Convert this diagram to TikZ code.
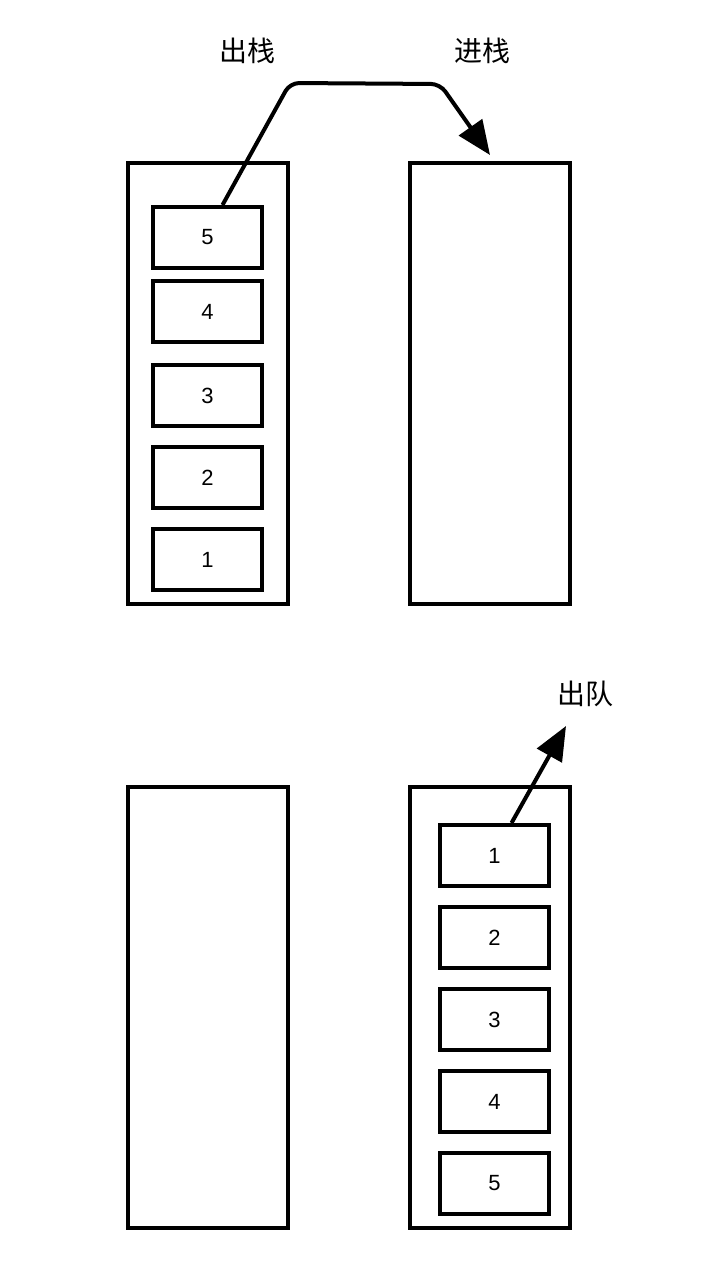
\documentclass[tikz,border=0pt]{standalone}
\usepackage{fontspec}
\setmainfont{Liberation Sans}
\newfontfamily\cjk{Noto Sans CJK SC}
\usetikzlibrary{arrows.meta}
\begin{document}
\begin{tikzpicture}[x=1pt,y=-1pt,
  stackbox/.style={draw,line width=4pt,minimum width=160pt,minimum height=441pt,inner sep=0pt},
  itembox/.style={draw,line width=4pt,minimum width=109pt,minimum height=61pt,inner sep=0pt,font=\fontsize{22}{26}\selectfont},
  lbl/.style={font=\cjk\fontsize{28}{32}\selectfont},
  arr/.style={line width=4pt,-{Triangle[length=34pt,width=28pt]}}]
\useasboundingbox (0,0) rectangle (718,1284);
% top stacks
\node[stackbox] (tl) at (208,383.5) {};
\node[stackbox] (tr) at (490,383.5) {};
\node[itembox] (l5) at (207.5,237.5) {5};
\node[itembox] (l4) at (207.5,311.5) {4};
\node[itembox] (l3) at (207.5,395.5) {3};
\node[itembox] (l2) at (207.5,477.5) {2};
\node[itembox] (l1) at (207.5,559.5) {1};
% bottom stacks
\node[stackbox] (bl) at (208,1007.5) {};
\node[stackbox] (br) at (490,1007.5) {};
\node[itembox] (r1) at (494.5,855.5) {1};
\node[itembox] (r2) at (494.5,937.5) {2};
\node[itembox] (r3) at (494.5,1019.5) {3};
\node[itembox] (r4) at (494.5,1101.5) {4};
\node[itembox] (r5) at (494.5,1183.5) {5};
% labels
\node[lbl] (out1) at (247,51) {出栈};
\node[lbl] (in1) at (482,51) {进栈};
\node[lbl] (deq) at (585,694) {出队};
% arrows
\draw[arr,rounded corners=9pt] ([xshift=15pt]l5.north) -- (290,83) -- (440,84) -- ([yshift=6pt]tr.north);
\coordinate (deqtip) at (566,726);
\draw[arr] ([xshift=17pt]r1.north) -- (deqtip);
\end{tikzpicture}
\end{document}
